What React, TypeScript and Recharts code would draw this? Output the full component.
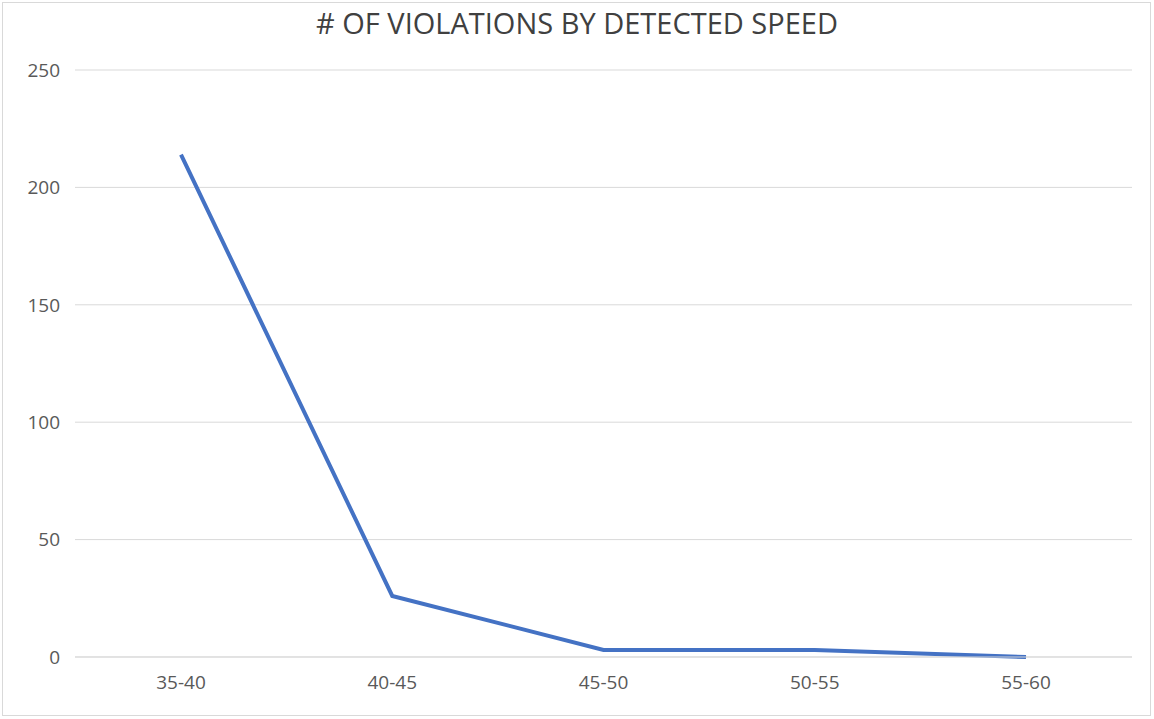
import React from "react";
import { LineChart, Line, XAxis, YAxis, CartesianGrid } from "recharts";

const speedRanges = ["35-40", "40-45", "45-50", "50-55", "55-60"];
const violations = [214, 26, 3, 3, 0];
const yTicks = [0, 50, 100, 150, 200, 250];

const data = speedRanges.map((range, i) => ({ range, count: violations[i] }));

const font = "'Open Sans', 'Noto Sans', sans-serif";

export default function App() {
  return (
    <div
      style={{
        position: "absolute",
        left: 0,
        top: 0,
        width: 1154,
        height: 719,
        background: "#fff",
        fontFamily: font,
      }}
    >
      <div
        style={{
          position: "absolute",
          left: 2,
          top: 2,
          width: 1147,
          height: 712,
          border: "1px solid #d9d9d9",
        }}
      />
      <div
        style={{
          position: "absolute",
          top: 3,
          left: 0,
          width: 1154,
          textAlign: "center",
          fontSize: 29,
          color: "#404040",
        }}
      >
        # OF VIOLATIONS BY DETECTED SPEED
      </div>
      <LineChart
        width={1154}
        height={719}
        data={data}
        margin={{ top: 70, right: 22, bottom: 0, left: 0 }}
        style={{ position: "absolute", left: 0, top: 0 }}
      >
        <CartesianGrid vertical={false} stroke="#d9d9d9" />
        <XAxis
          dataKey="range"
          height={62}
          padding={{ left: 106, right: 106 }}
          axisLine={{ stroke: "#d9d9d9" }}
          tickLine={false}
          tickSize={0}
          tickMargin={19}
          tick={{ fill: "#595959", fontSize: 19, fontFamily: font }}
        />
        <YAxis
          width={75}
          domain={[0, 250]}
          ticks={yTicks}
          axisLine={false}
          tickLine={false}
          tickSize={0}
          tickMargin={15}
          tick={{ fill: "#595959", fontSize: 19, fontFamily: font }}
        />
        <Line
          dataKey="count"
          stroke="#4472c4"
          strokeWidth={4}
          dot={false}
          isAnimationActive={false}
        />
      </LineChart>
    </div>
  );
}
